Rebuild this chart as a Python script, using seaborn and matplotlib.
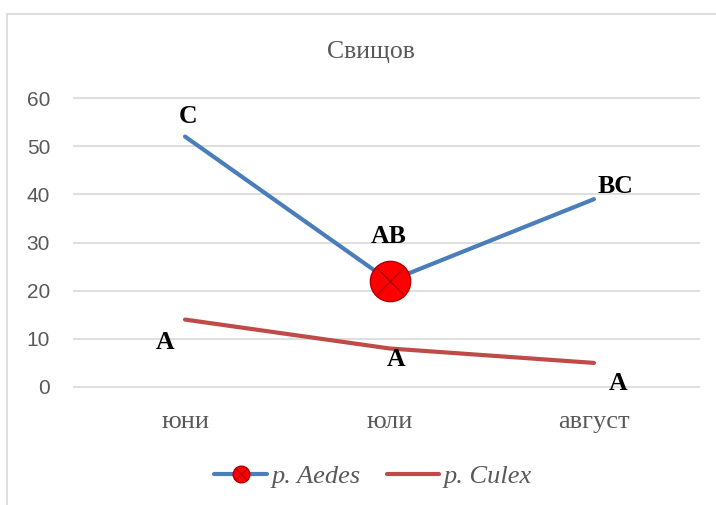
import matplotlib
matplotlib.use("Agg")
import matplotlib.pyplot as plt
import seaborn as sns
import pandas as pd
from matplotlib.lines import Line2D
from matplotlib.patches import Rectangle

months = ["юни", "юли", "август"]
aedes = [52, 22, 39]
culex = [14, 8, 5]
aedes_letters = ["C", "AB", "BC"]
culex_letters = ["A", "A", "A"]
series_names = ["p. Aedes", "p. Culex"]
title = "Свищов"
yticks = [0, 10, 20, 30, 40, 50, 60]

sns.set_theme(style="white")
plt.rcParams['font.family'] = ['Liberation Serif', 'DejaVu Serif']

W, H = 716, 505
fig = plt.figure(figsize=(W / 100, H / 100), dpi=100)
ax = fig.add_axes([73 / W, 1 - 400 / H, (700 - 73) / W, (400 - 80) / H])

df = pd.DataFrame({
    "x": list(range(3)) * 2,
    "value": aedes + culex,
    "series": [series_names[0]] * 3 + [series_names[1]] * 3,
})
blue = "#4A7EBB"
red = "#BE4B48"
sns.lineplot(data=df, x="x", y="value", hue="series",
             palette={series_names[0]: blue, series_names[1]: red},
             linewidth=3.0, ax=ax, legend=False, sort=False)
ax.lines[0].set_solid_capstyle("round")
ax.lines[1].set_solid_capstyle("round")

# highlighted marker at July
sns.scatterplot(x=[1], y=[aedes[1]], s=29 ** 2, color="#FF0000", edgecolor="#B00000",
                linewidth=1.0, ax=ax, zorder=5, legend=False)
sns.scatterplot(x=[1], y=[aedes[1]], s=19 ** 2, marker="x", color="#B00000",
                linewidth=1.0, ax=ax, zorder=6, legend=False)

ppu = 204.5
ax.set_xlim((73 - 185) / ppu, (700 - 185) / ppu)
upp = 60 / 289
ymin = 0 - (400 - 387) * upp
ymax = ymin + 320 * upp
ax.set_ylim(ymin, ymax)
ax.set_yticks(yticks)
ax.set_xticks(range(3))
ax.set_xticklabels(months)
ax.set_xlabel("")
ax.set_ylabel("")
for s in ax.spines.values():
    s.set_visible(False)
ax.yaxis.grid(True, color="#D9D9D9", linewidth=1.2)
ax.set_axisbelow(True)
ax.tick_params(axis="y", length=0, pad=16.5, labelsize=15, labelcolor="#595959")
ax.tick_params(axis="x", length=0, pad=8, labelsize=19, labelcolor="#595959")
for lab in ax.get_yticklabels():
    lab.set_fontfamily(["Liberation Sans", "DejaVu Sans"])

letter_kw = dict(fontsize=18.5, fontweight="bold", color="black", ha="center", va="center")
a_off = [(3, 20), (-1, 45), (21, 13)]
c_off = [(-20, -23), (7, -11), (24, -21)]
for i in range(3):
    ax.annotate(aedes_letters[i], (i, aedes[i]), xytext=a_off[i], textcoords="offset pixels", **letter_kw)
    ax.annotate(culex_letters[i], (i, culex[i]), xytext=c_off[i], textcoords="offset pixels", **letter_kw)

fig.text(371 / W, 1 - 52 / H, title, ha="center", va="center", fontsize=18.5, color="#595959")

h_aedes = (Line2D([], [], color=blue, linewidth=3.0, marker="o", markersize=12,
                  markerfacecolor="#FF0000", markeredgecolor="#B00000", solid_capstyle="round"),
           Line2D([], [], linestyle="none", marker="x", markersize=8, markeredgecolor="#B00000",
                  markeredgewidth=0.8))
h_culex = Line2D([], [], color=red, linewidth=3.0, solid_capstyle="round")
leg = fig.legend([h_aedes, h_culex], series_names, loc="center", bbox_to_anchor=(373 / W, 1 - 476 / H),
                 ncol=2, frameon=False, handlelength=2.0, handletextpad=0.15, columnspacing=1.0,
                 prop={"family": ["Liberation Serif"], "style": "italic", "size": 19})
for t in leg.get_texts():
    t.set_color("#595959")

fig.add_artist(Rectangle((7 / W, -10 / H), (730 - 7) / W, (505 - 14 + 10) / H,
                         transform=fig.transFigure, fill=False, edgecolor="#D9D9D9", linewidth=1.2))

fig.savefig("out.png", dpi=100, facecolor="white")
